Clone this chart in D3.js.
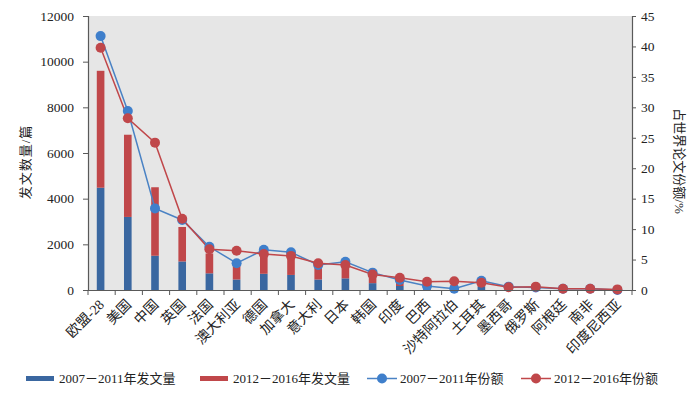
<!DOCTYPE html>
<html>
<head>
<meta charset="utf-8">
<script src="https://cdn.jsdelivr.net/npm/d3@7/dist/d3.min.js"></script>
<style>
  body { margin: 0; background: #fff; }
  text { font-family: "Liberation Serif", "Noto Sans CJK SC", serif; fill: #222; }
</style>
</head>
<body>
<script>
// data
var countries = ['欧盟-28', '美国', '中国', '英国', '法国', '澳大利亚', '德国', '加拿大', '意大利', '日本',
  '韩国', '印度', '巴西', '沙特阿拉伯', '土耳其', '墨西哥', '俄罗斯', '阿根廷', '南非', '印度尼西亚'];
var papers0711 = [4480, 3200, 1500, 1250, 730, 460, 710, 660, 460, 510, 300, 175, 70, 25, 160, 60, 40, 22, 22, 3];
var papers1216 = [5120, 3600, 3000, 1510, 870, 830, 760, 720, 570, 530, 330, 260, 175, 190, 155, 56, 70, 25, 25, 6];
var share0711 = [41.7, 29.4, 13.4, 11.5, 7.1, 4.4, 6.6, 6.2, 4.1, 4.65, 2.85, 1.65, 0.65, 0.2, 1.5, 0.55, 0.4, 0.2, 0.2, 0.0];
var share1216 = [39.8, 28.2, 24.2, 11.7, 6.7, 6.45, 5.9, 5.6, 4.4, 4.1, 2.55, 2.0, 1.35, 1.45, 1.2, 0.45, 0.55, 0.2, 0.2, 0.1];
var leftTicks = [0, 2000, 4000, 6000, 8000, 10000, 12000];
var rightTicks = [0, 5, 10, 15, 20, 25, 30, 35, 40, 45];

(function() {
  var W = 700, H = 398;
  var margin = {top: 16, right: 68, bottom: 108, left: 88};
  var width = W - margin.left - margin.right;
  var height = H - margin.top - margin.bottom;

  var svg = d3.select('body').append('svg')
    .attr('width', W)
    .attr('height', H);
  var g = svg.append('g')
    .attr('transform', 'translate(' + margin.left + ',' + margin.top + ')');

  var x = d3.scaleBand().domain(countries).range([0, width]).padding(0);
  var yL = d3.scaleLinear().domain([0, 12000]).range([height, 0]);
  var yR = d3.scaleLinear().domain([0, 45]).range([height, 0]);

  // plot background
  g.append('rect')
    .attr('width', width).attr('height', height)
    .attr('fill', '#e6e6e6');

  // stacked bars
  var bw = x.bandwidth() * 0.28;
  var cx = function(i) { return x(countries[i]) + x.bandwidth() / 2 - 1; };
  g.selectAll('.bar0711')
    .data(papers0711)
    .enter().append('rect')
      .attr('x', function(d, i) { return cx(i) - bw / 2; })
      .attr('y', function(d) { return yL(d); })
      .attr('width', bw)
      .attr('height', function(d) { return height - yL(d); })
      .attr('fill', '#3a67a0');
  g.selectAll('.bar1216')
    .data(papers1216)
    .enter().append('rect')
      .attr('x', function(d, i) { return cx(i) - bw / 2; })
      .attr('y', function(d, i) { return yL(d + papers0711[i]); })
      .attr('width', bw)
      .attr('height', function(d) { return height - yL(d); })
      .attr('fill', '#c0474a');

  // share lines
  function drawLine(vals, lineColor, dotColor) {
    var line = d3.line()
      .x(function(d, i) { return cx(i); })
      .y(function(d) { return yR(d); });
    g.append('path')
      .datum(vals)
      .attr('d', line)
      .attr('fill', 'none')
      .attr('stroke', lineColor)
      .attr('stroke-width', 1.5);
    return function() {
      g.selectAll(null)
        .data(vals)
        .enter().append('circle')
          .attr('cx', function(d, i) { return cx(i); })
          .attr('cy', function(d) { return yR(d); })
          .attr('r', 5)
          .attr('fill', dotColor);
    };
  }
  var dotsBlue = drawLine(share0711, '#4a82c4', '#3f7fcb');
  var dotsRed = drawLine(share1216, '#c0474a', '#c0474a');
  dotsBlue();
  dotsRed();

  // axes
  var axL = g.append('g')
    .call(d3.axisLeft(yL).tickValues(leftTicks).tickSize(5).tickPadding(9).tickFormat(d3.format('d')));
  var axR = g.append('g')
    .attr('transform', 'translate(' + width + ',0)')
    .call(d3.axisRight(yR).tickValues(rightTicks).tickSize(4).tickPadding(5));
  var axB = g.append('g')
    .attr('transform', 'translate(0,' + height + ')')
    .call(d3.axisBottom(x).tickSize(0).tickFormat(''));
  // tick marks on band edges
  axB.selectAll('.edge')
    .data(d3.range(countries.length + 1))
    .enter().append('line')
      .attr('x1', function(i) { return i * x.step(); })
      .attr('x2', function(i) { return i * x.step(); })
      .attr('y1', 0).attr('y2', 5)
      .attr('stroke', '#595959');

  [axL, axR, axB].forEach(function(a) {
    a.select('.domain').attr('stroke', '#595959').attr('stroke-width', 1.2);
    a.selectAll('.tick line').attr('stroke', '#595959');
    a.selectAll('.tick text').style('font-size', '13.5px').attr('fill', '#222');
  });

  // rotated category labels
  g.selectAll('.xlab')
    .data(countries)
    .enter().append('text')
      .attr('transform', function(d, i) {
        return 'translate(' + (cx(i) + 1) + ',' + (height + 12) + ') rotate(-45)';
      })
      .attr('text-anchor', 'end')
      .attr('dy', '0.35em')
      .style('font-size', '14px')
      .text(function(d) { return d; });

  // axis titles
  svg.append('text')
    .attr('transform', 'translate(30,' + (margin.top + 146) + ') rotate(-90)')
    .attr('text-anchor', 'middle')
    .style('font-size', '13px')
    .style('letter-spacing', '1px')
    .text('发文数量/篇');
  svg.append('text')
    .attr('transform', 'translate(675,' + (margin.top + 145) + ') rotate(90)')
    .attr('text-anchor', 'middle')
    .style('font-size', '13px')
    .text('占世界论文份额/%');

  // legend
  var ly = 378.5;
  var legend = svg.append('g');
  var items = [
    {type: 'bar', color: '#3a67a0', x: 26, label: '2007－2011年发文量'},
    {type: 'bar', color: '#c0474a', x: 200, label: '2012－2016年发文量'},
    {type: 'line', color: '#4a82c4', dot: '#3f7fcb', x: 367, label: '2007－2011年份额'},
    {type: 'line', color: '#c0474a', dot: '#c0474a', x: 521, label: '2012－2016年份额'}
  ];
  items.forEach(function(it) {
    if (it.type == 'bar') {
      legend.append('rect')
        .attr('x', it.x).attr('y', ly - 2.5)
        .attr('width', 28).attr('height', 5)
        .attr('fill', it.color);
    } else {
      legend.append('line')
        .attr('x1', it.x).attr('x2', it.x + 30)
        .attr('y1', ly).attr('y2', ly)
        .attr('stroke', it.color).attr('stroke-width', 1.5);
      legend.append('circle')
        .attr('cx', it.x + 15).attr('cy', ly)
        .attr('r', 5).attr('fill', it.dot);
    }
    legend.append('text')
      .attr('x', it.x + 33).attr('y', ly)
      .attr('dy', '0.35em')
      .style('font-size', '13px')
      .text(it.label);
  });
})();
</script>
</body>
</html>
